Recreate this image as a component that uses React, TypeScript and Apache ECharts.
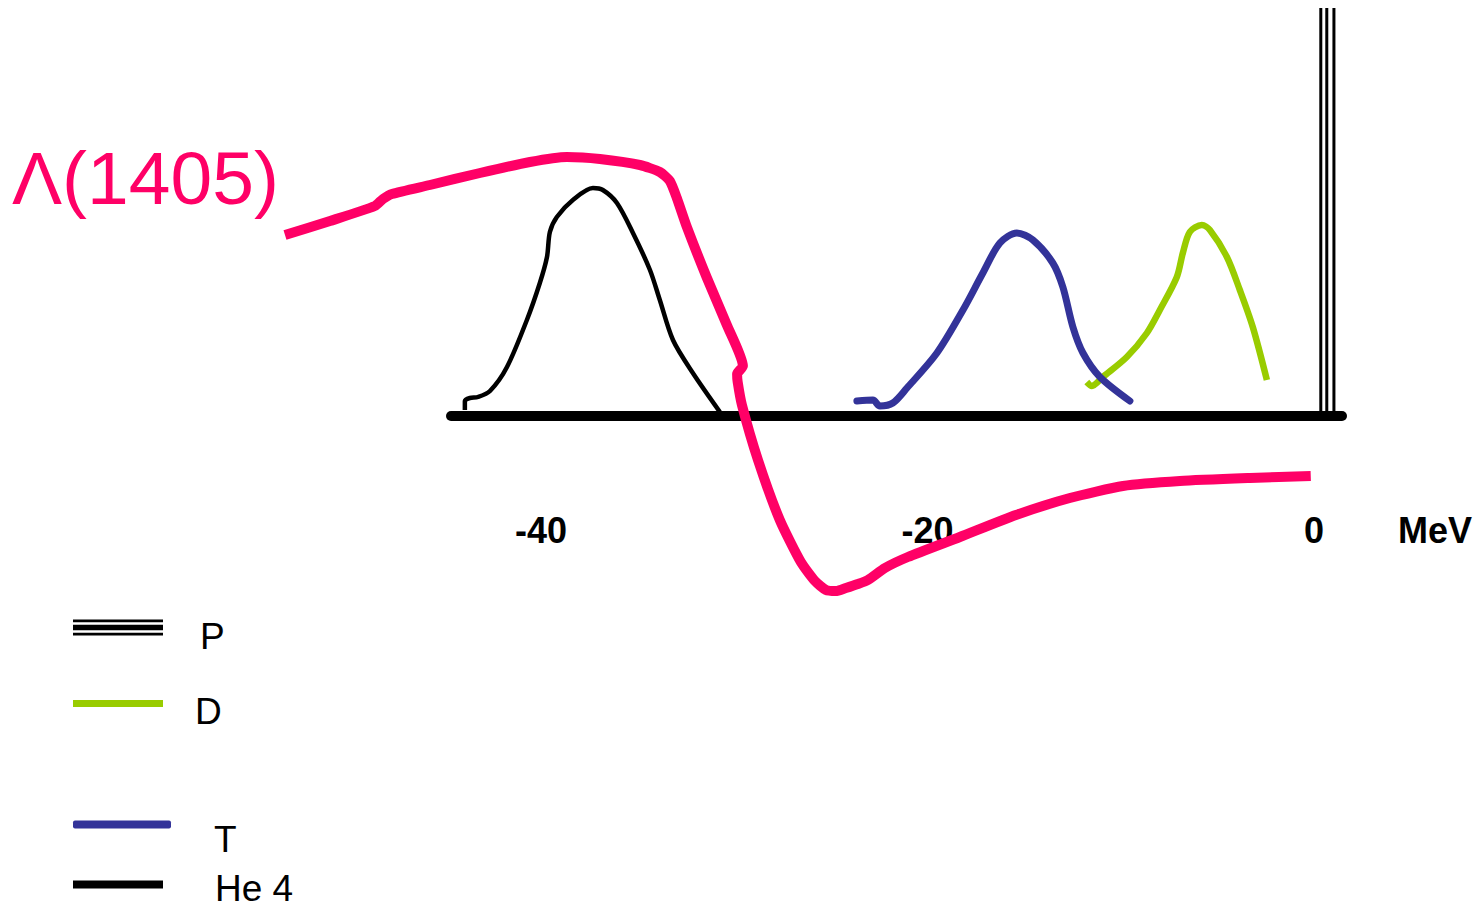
import React, { useEffect, useRef } from "react";
import * as echarts from "echarts";

// Energy axis (MeV) tick labels
const MEV_TICKS = [-40, -20, 0];

// Schematic strength distributions, x = energy (MeV), y = arbitrary strength
const P_LEVEL = [
  [0.36, 0], [0.36, 40.8], [0.36, "-"],
  [0.67, 40.8], [0.67, 0], [0.67, "-"],
  [1.04, 0], [1.04, 40.8],
];

const D_CURVE = [
  [-11.75, 3.4], [-11.49, 3.0], [-10.92, 3.9], [-9.68, 5.9], [-8.64, 8.3],
  [-7.97, 10.6], [-7.09, 13.9], [-6.78, 16.3], [-6.42, 18.4], [-5.8, 19.1],
  [-5.38, 18.6], [-4.5, 15.9], [-3.83, 12.6], [-3.16, 8.9], [-2.43, 3.6],
];

const T_CURVE = [
  [-23.65, 1.5], [-22.82, 1.6], [-22.46, 1.0], [-21.79, 1.3], [-21.06, 2.8],
  [-19.51, 6.3], [-18.16, 10.6], [-17.13, 14.3], [-16.25, 17.3], [-15.37, 18.3],
  [-14.54, 17.6], [-13.51, 15.3], [-12.99, 12.9], [-12.47, 8.9], [-11.95, 6.3],
  [-11.07, 3.9], [-9.52, 1.5],
];

const HE4_CURVE = [
  [-43.94, 0.6], [-43.94, 1.5], [-43.68, 1.8], [-43.26, 1.9], [-42.64, 2.5],
  [-41.76, 4.9], [-40.73, 9.6], [-40.06, 13.3], [-39.69, 15.9], [-39.54, 18.4],
  [-39.18, 19.9], [-38.35, 21.6], [-37.31, 22.8], [-36.8, 22.6], [-36.07, 21.3],
  [-35.24, 18.3], [-34.36, 14.6], [-33.85, 11.6], [-33.17, 7.6], [-32.14, 4.3],
  [-30.74, 0.4],
];

const LAMBDA_CURVE = [
  [-53.25, 18.1], [-50.92, 19.5], [-48.6, 21.0], [-48.18, 21.7], [-47.72, 22.2],
  [-45.75, 23.1], [-43.16, 24.3], [-40.57, 25.4], [-38.66, 25.9], [-36.95, 25.7],
  [-34.88, 25.1], [-33.85, 24.4], [-33.33, 23.5], [-32.97, 21.8], [-32.45, 18.9],
  [-31.41, 13.8], [-30.38, 9.1], [-29.55, 5.0], [-29.85, 4.2], [-29.82, 3.4],
  [-29.6, 1.1], [-28.77, -4.4], [-27.64, -10.4], [-26.55, -14.6],
  [-25.82, -16.5], [-25.25, -17.4], [-24.74, -17.5], [-24.22, -17.2], [-23.6, -16.8],
  [-23.08, -16.4], [-22.2, -15.2], [-21.01, -14.1], [-18.32, -12.1], [-15.42, -9.9],
  [-12.63, -8.2], [-9.88, -7.0], [-6.93, -6.5], [-3.31, -6.2], [-0.16, -6.0],
];

const FONT = "'Liberation Sans', Arial, Helvetica, sans-serif";
const PINK = "#FF0066";
const GREEN = "#99CC00";
const BLUE = "#333399";

function legendFor(name: string, iconCenter: number, icon: string, w: number, h: number, dy: number, padLeft: number) {
  const lh = 34;
  return {
    data: [name],
    left: 73,
    top: iconCenter - lh / 2 - dy - 2,
    padding: 0,
    orient: "vertical",
    icon,
    itemWidth: w,
    itemHeight: h,
    selectedMode: false,
    formatter: "{t|{name}}",
    textStyle: {
      fontFamily: FONT,
      fontSize: 37,
      color: "#000",
      rich: {
        t: {
          fontFamily: FONT,
          fontSize: 37,
          lineHeight: lh,
          color: "#000",
          padding: [2 * dy, 0, 0, padLeft],
        },
      },
    },
  };
}

export default function App() {
  const ref = useRef<HTMLDivElement>(null);

  useEffect(() => {
    if (!ref.current) return;
    const chart = echarts.init(ref.current, null, { renderer: "svg" });
    const lineBase = {
      type: "line",
      xAxisIndex: 0,
      yAxisIndex: 0,
      showSymbol: false,
      symbol: "none",
      silent: true,
    };
    chart.setOption({
      animation: false,
      backgroundColor: "#fff",
      grid: [
        { left: 0, right: 0, top: 0, bottom: 0, containLabel: false, outerBoundsMode: "none" },
        { left: 451, right: 138, top: 0, bottom: 493, containLabel: false, outerBoundsMode: "none" },
      ],
      xAxis: [
        { gridIndex: 0, type: "value", min: -68, max: 8.6, show: false },
        {
          gridIndex: 1,
          type: "value",
          min: -44.66,
          max: 1.45,
          position: "bottom",
          name: "MeV",
          nameLocation: "end",
          nameGap: 56,
          nameTextStyle: {
            fontFamily: FONT,
            fontSize: 36,
            fontWeight: "bold",
            color: "#000",
            align: "left",
            verticalAlign: "top",
            padding: [96, 0, 0, 0],
          },
          axisLine: { show: true, onZero: false, lineStyle: { color: "#000", width: 10 } },
          axisTick: { show: false },
          splitLine: { show: false },
          axisLabel: {
            customValues: MEV_TICKS,
            margin: 96,
            fontFamily: FONT,
            fontSize: 36,
            fontWeight: "bold",
            color: "#000",
          },
        },
      ],
      yAxis: [
        { gridIndex: 0, type: "value", min: -49.3, max: 41.6, show: false },
        { gridIndex: 1, type: "value", min: 0, max: 1, show: false },
      ],
      legend: [
        legendFor("P", 628, "path://M0 0H90V2.7H0Z M0 5.3H90V10.7H0Z M0 13.3H90V16H0Z", 90, 16, 9, 32),
        legendFor("D", 704, "rect", 90, 7, 8, 27),
        legendFor("T", 825, "roundRect", 98, 8, 15, 38),
        legendFor("He 4", 885, "rect", 90, 8, 4, 47),
      ],
      graphic: [
        {
          type: "text",
          left: 12,
          top: 140,
          style: { text: "Λ(1405)", fontFamily: FONT, fontSize: 75, fill: PINK },
        },
      ],
      series: [
        { ...lineBase, name: "P", data: P_LEVEL, color: "#000", lineStyle: { color: "#000", width: 3 }, z: 2 },
        { ...lineBase, name: "D", data: D_CURVE, smooth: 0.3, color: GREEN, lineStyle: { color: GREEN, width: 6.5 }, z: 3 },
        { ...lineBase, name: "T", data: T_CURVE, smooth: 0.3, color: BLUE, lineStyle: { color: BLUE, width: 7, cap: "round" }, z: 4 },
        { ...lineBase, name: "He 4", data: HE4_CURVE, smooth: 0.3, color: "#000", lineStyle: { color: "#000", width: 4.5, join: "round" }, z: 5 },
        { ...lineBase, name: "Λ(1405)", data: LAMBDA_CURVE, smooth: 0.2, color: PINK, lineStyle: { color: PINK, width: 10, join: "round" }, z: 6 },
      ],
    });
    return () => chart.dispose();
  }, []);

  return (
    <div
      ref={ref}
      style={{ position: "absolute", left: 0, top: 0, width: 1480, height: 909 }}
    />
  );
}
